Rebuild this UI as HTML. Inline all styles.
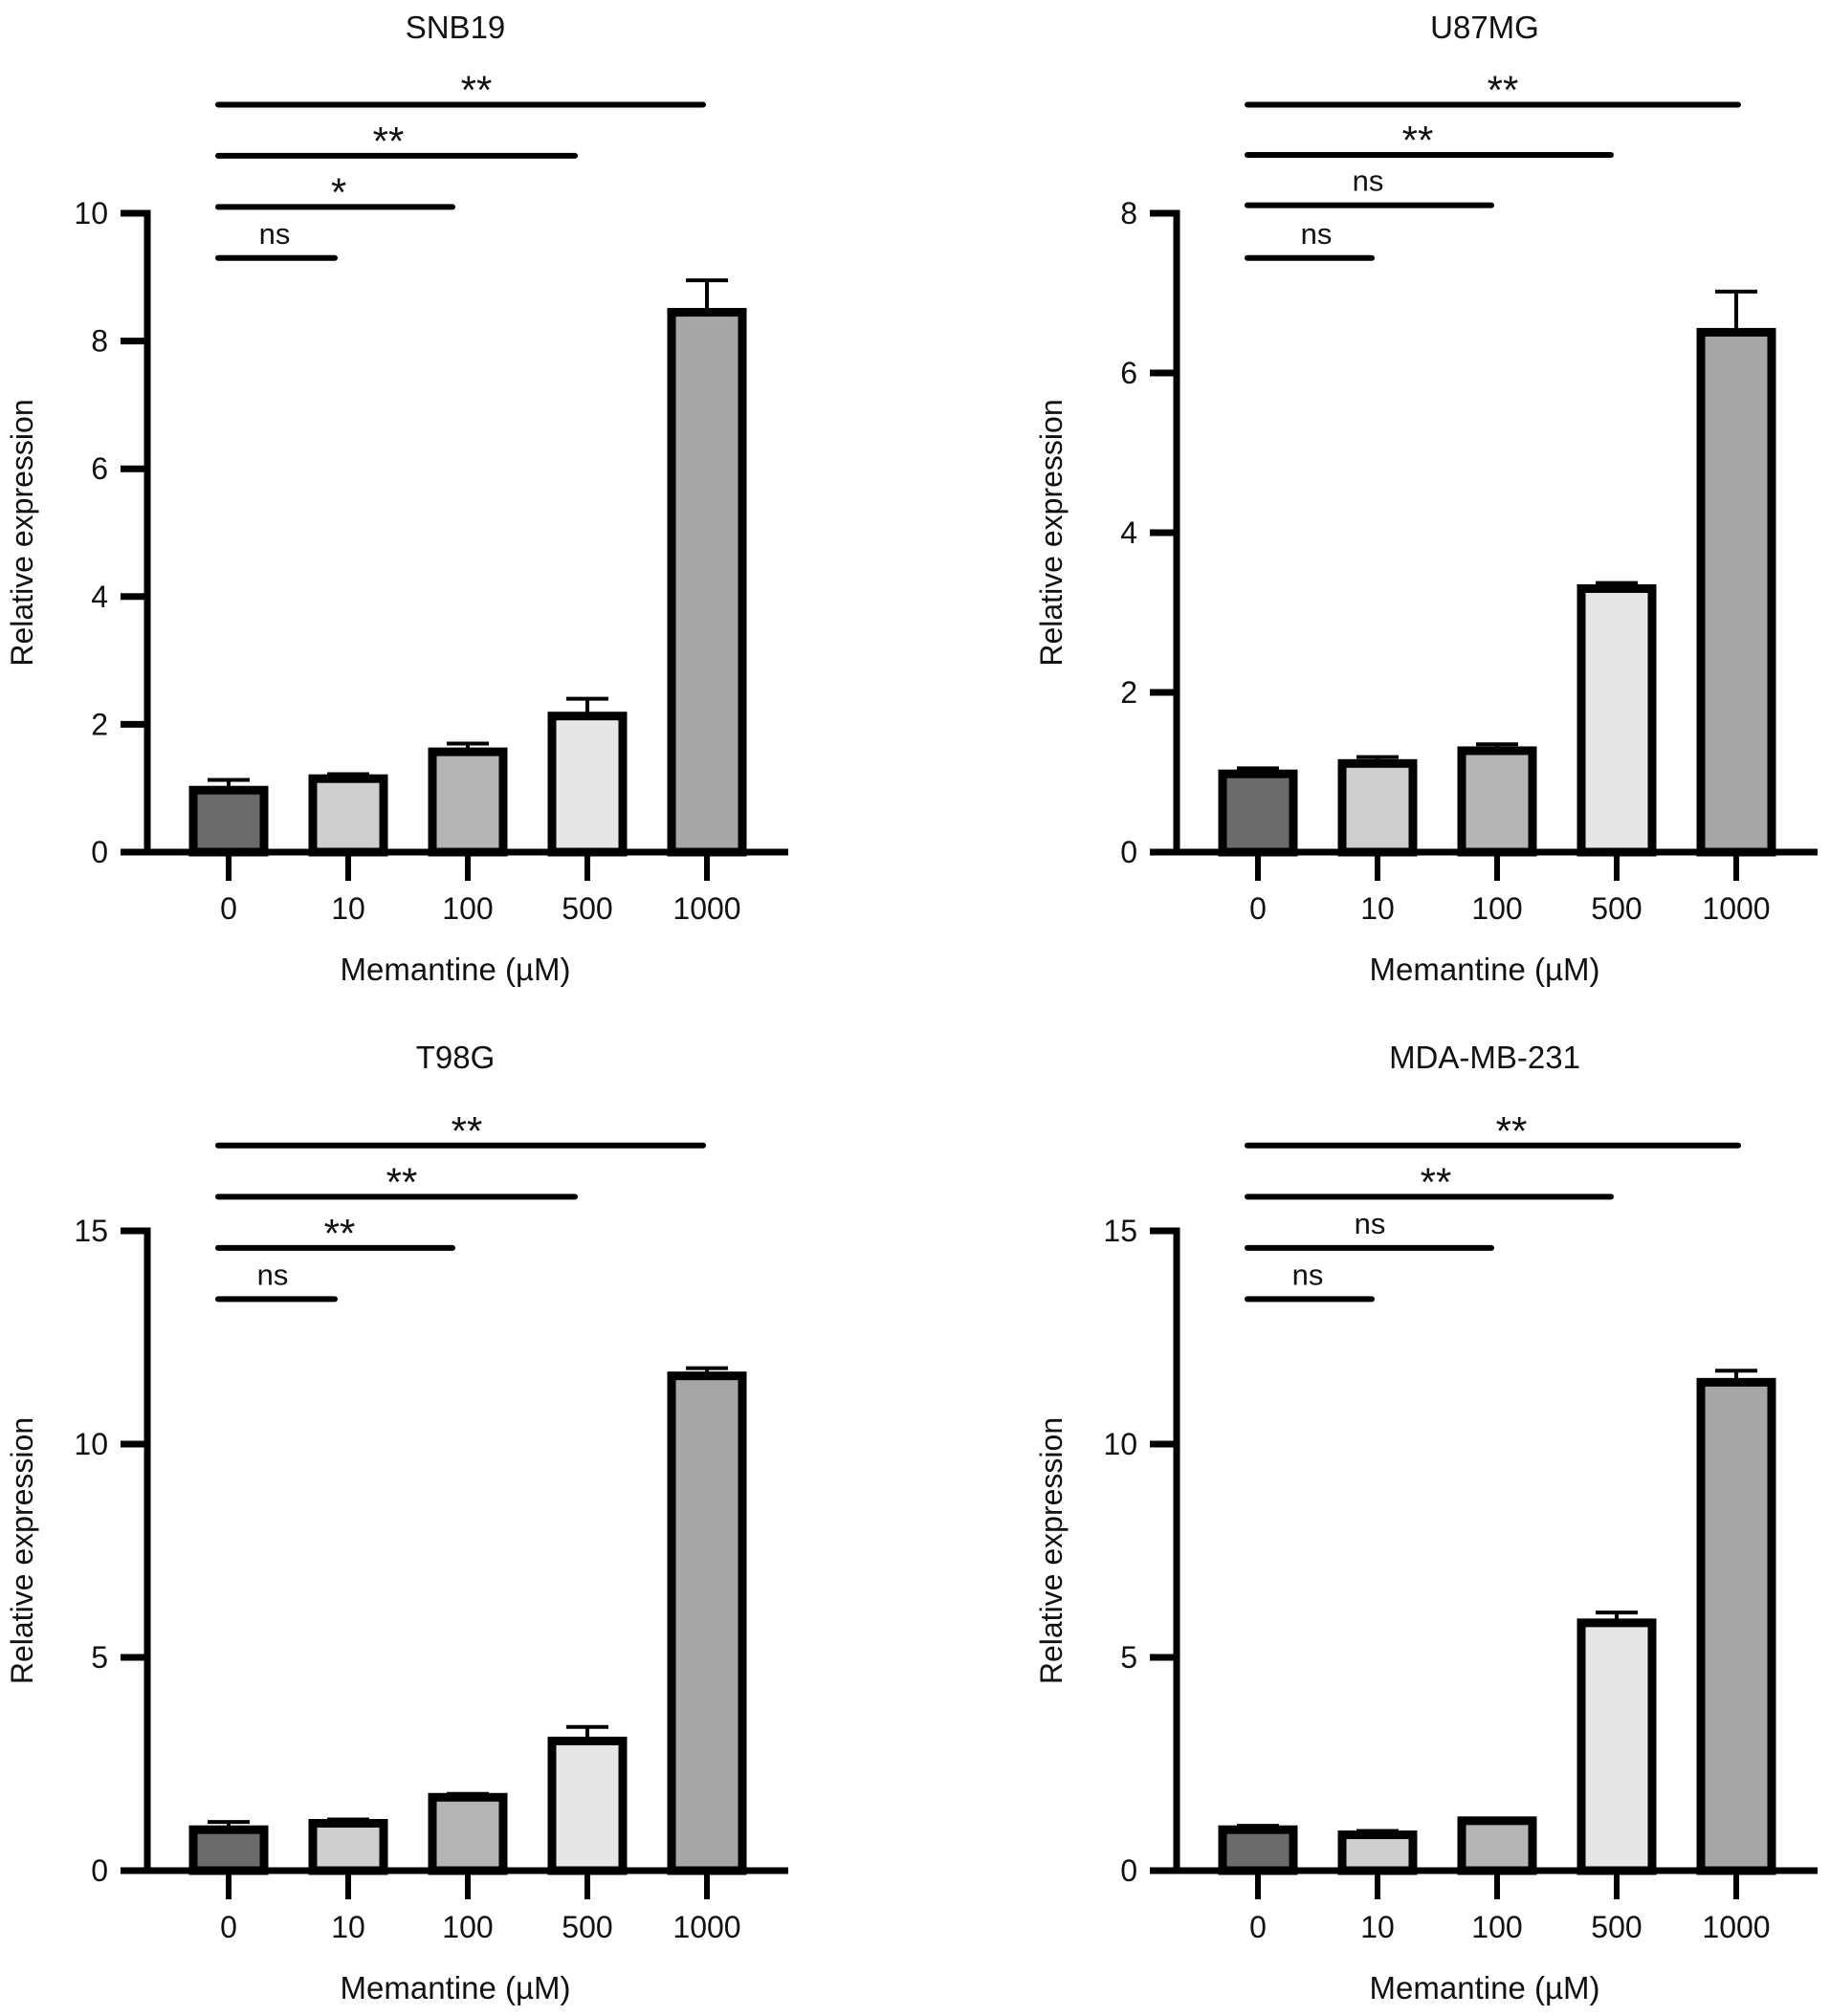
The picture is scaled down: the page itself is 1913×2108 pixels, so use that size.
<!DOCTYPE html>
<html><head><meta charset="utf-8">
<style>
html,body{margin:0;padding:0;background:#fff;}
svg{display:block;}
text{font-family:"Liberation Sans",Arial,sans-serif;fill:#111;}
</style></head>
<body>
<svg id="fig" width="1913" height="2108" viewBox="0 0 1913 2108" xmlns="http://www.w3.org/2000/svg"></svg>
<script>
// ---- data ----
const categories = ["0","10","100","500","1000"];
const panelTitles = ["SNB19","U87MG","T98G","MDA-MB-231"];
const snb19Values = [0.97,1.15,1.57,2.13,8.45];
const snb19Errors = [1.13,1.22,1.70,2.40,8.95];
const u87Values = [0.98,1.11,1.27,3.30,6.51];
const u87Errors = [1.05,1.19,1.35,3.37,7.02];
const t98gValues = [0.96,1.11,1.72,3.04,11.6];
const t98gErrors = [1.14,1.20,1.80,3.37,11.78];
const mdaValues = [0.96,0.84,1.17,5.81,11.45];
const mdaErrors = [1.05,0.93,1.17,6.05,11.72];
const snb19Ticks = [0,2,4,6,8,10];
const u87Ticks = [0,2,4,6,8];
const bottomTicks = [0,5,10,15];
const snb19Sig = ["ns","*","**","**"];
const u87Sig = ["ns","ns","**","**"];
const t98gSig = ["ns","**","**","**"];
const mdaSig = ["ns","ns","**","**"];
const snb19SigLevels = [9.3,10.1,10.9,11.7];
const u87SigLevels = [7.44,8.1,8.73,9.36];
const bottomSigLevels = [13.4,14.6,15.8,17.0];

const colors = ["#6b6b6b","#cfcfcf","#b4b4b4","#e6e6e6","#a6a6a6"];
const NS="http://www.w3.org/2000/svg";
const svg=document.getElementById('fig');
function el(tag,attrs,parent){const e=document.createElementNS(NS,tag);for(const k in attrs)e.setAttribute(k,attrs[k]);(parent||svg).appendChild(e);return e;}

function panel(cfg){
  const g=el('g',{});
  
  
  const ax=cfg.axisX, y0=cfg.y0, yTop=cfg.yTop, maxT=cfg.ticks[cfg.ticks.length-1];
  const y=v=>y0-(y0-yTop)*v/maxT;
  const xc=i=>ax+85+125*i;
  const xl=ax-26, xr=ax+670;
  const t=el('text',{x:(xl+xr)/2,y:cfg.titleY,'text-anchor':'middle','font-size':33},g);t.textContent=cfg.title;
  
  
  const ya=el('line',{x1:ax,y1:y0,x2:ax,y2:yTop-3.5,stroke:'#000','stroke-width':7},g);
  
  
  cfg.ticks.forEach(v=>{
    el('line',{x1:ax-28,y1:y(v),x2:ax,y2:y(v),stroke:'#000','stroke-width':7},g);
    const tl=el('text',{x:ax-41,y:y(v)+11,'text-anchor':'end','font-size':32},g);tl.textContent=v;
    
    
  });
  const yt=el('text',{x:0,y:0,'text-anchor':'middle','font-size':32,transform:`translate(${ax-120},${(y0+yTop)/2}) rotate(-90)`},g);
  yt.textContent='Relative expression';
  
  
  cfg.values.forEach((v,i)=>{
    const cx=xc(i);
    const e=cfg.errors[i];
    if(e>v){
      el('line',{x1:cx,y1:y(v),x2:cx,y2:y(e),stroke:'#000','stroke-width':4},g);
      el('line',{x1:cx-22,y1:y(e),x2:cx+22,y2:y(e),stroke:'#000','stroke-width':4},g);
    }
    const r=el('rect',{x:cx-37,y:y(v),width:74,height:y0-y(v),fill:colors[i],stroke:'#000','stroke-width':9},g);
    
    
  });
  const xa=el('line',{x1:xl,y1:y0,x2:xr,y2:y0,stroke:'#000','stroke-width':7},g);
  
  
  categories.forEach((c,i)=>{
    el('line',{x1:xc(i),y1:y0,x2:xc(i),y2:y0+30,stroke:'#000','stroke-width':6},g);
    const tl=el('text',{x:xc(i),y:y0+70,'text-anchor':'middle','font-size':32},g);tl.textContent=c;
    
    
  });
  const xt=el('text',{x:(xl+xr)/2,y:y0+134,'text-anchor':'middle','font-size':33},g);xt.textContent='Memantine (\u00b5M)';
  
  
  cfg.sig.forEach((s,k)=>{
    const ly=y(cfg.sigLevels[k]);
    const x1=xc(0)-11, x2=xc(k+1)+cfg.endOff[k];
    const ln=el('line',{x1:x1,y1:ly,x2:x2,y2:ly,stroke:'#000','stroke-width':6,'stroke-linecap':'round'},g);
    
    
    const isStar=s.indexOf('*')>=0;
    const lt=el('text',{x:cfg.sigX[k],y:isStar?ly-1:ly-15,'text-anchor':'middle','font-size':isStar?42:31,fill:isStar?'#666':'#111'},g);
    lt.textContent=s;
    
    
  });
}

panel({name:'snb19-chart',title:panelTitles[0],axisX:154,y0:891,yTop:223,titleY:40,ticks:snb19Ticks,values:snb19Values,errors:snb19Errors,sig:snb19Sig,sigLevels:snb19SigLevels,sigX:[287,354,406,498],endOff:[-14,-16,-13,-4]});
panel({name:'u87mg-chart',title:panelTitles[1],axisX:1230,y0:891,yTop:223,titleY:40,ticks:u87Ticks,values:u87Values,errors:u87Errors,sig:u87Sig,sigLevels:u87SigLevels,sigX:[1376,1430,1482,1571],endOff:[-6,-6,-6,2]});
panel({name:'t98g-chart',title:panelTitles[2],axisX:154,y0:1956,yTop:1287,titleY:1117,ticks:bottomTicks,values:t98gValues,errors:t98gErrors,sig:t98gSig,sigLevels:bottomSigLevels,sigX:[285,355,420,488],endOff:[-14,-16,-13,-4]});
panel({name:'mda-mb-231-chart',title:panelTitles[3],axisX:1230,y0:1956,yTop:1287,titleY:1117,ticks:bottomTicks,values:mdaValues,errors:mdaErrors,sig:mdaSig,sigLevels:bottomSigLevels,sigX:[1367,1432,1501,1580],endOff:[-6,-6,-6,2]});
</script>
</body></html>
